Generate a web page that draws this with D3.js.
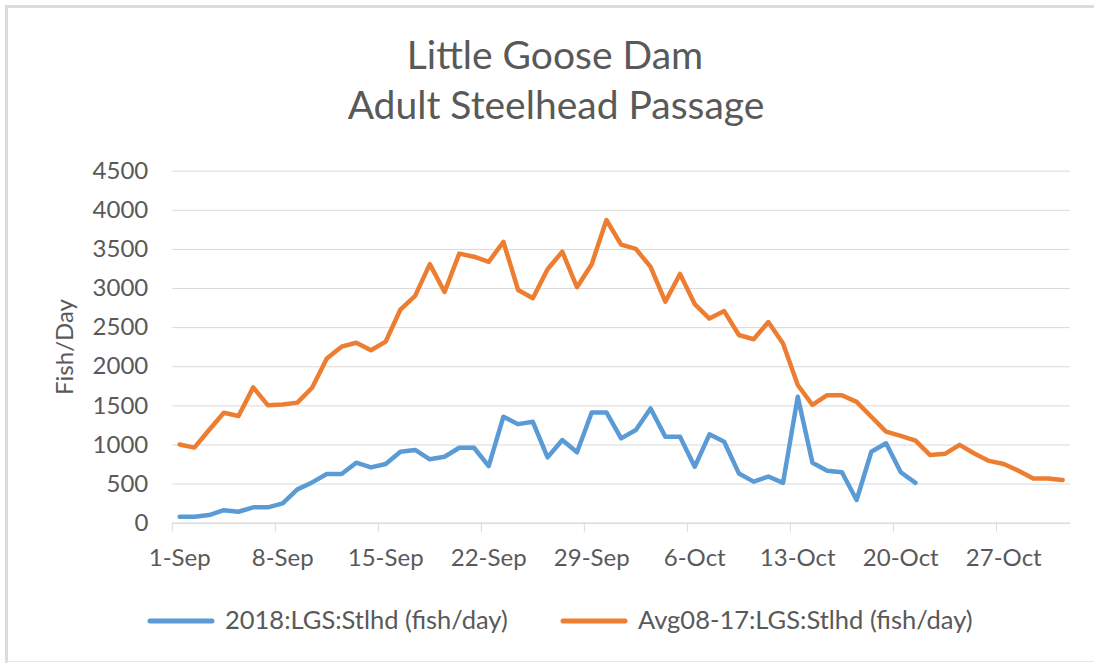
<!DOCTYPE html>
<html>
<head>
<meta charset="utf-8">
<script src="https://cdn.jsdelivr.net/npm/d3@7"></script>
<style>
  body { margin: 0; background: #fff; }
  text { font-family: Lato, "Open Sans", sans-serif; fill: #595959; }
</style>
</head>
<body>
<div id="chart"></div>
<script>
// daily counts, 1-Sep onwards
const series2018 = [77, 77, 98, 160, 140, 196, 196, 247, 426, 515,
    622, 622, 767, 707, 750, 907, 930, 810, 843, 958,
    958, 724, 1355, 1260, 1290, 835, 1057, 900, 1410, 1410,
    1078, 1185, 1460, 1100, 1100, 715, 1130, 1035, 630, 525,
    590, 510, 1610, 767, 665, 645, 290, 907, 1015, 645,
    510];
const seriesAvg = [1000, 960, 1185, 1405, 1365, 1730, 1500, 1510, 1535, 1725,
    2100, 2250, 2300, 2205, 2315, 2725, 2900, 3305, 2950, 3440,
    3400, 3335, 3590, 2975, 2870, 3240, 3465, 3010, 3305, 3870,
    3555, 3500, 3270, 2825, 3180, 2795, 2610, 2705, 2400, 2345,
    2565, 2290, 1760, 1505, 1630, 1630, 1545, 1355, 1165, 1110,
    1050, 865, 880, 995, 885, 790, 750, 665, 565, 565,
    545];
const xTickLabels = ["1-Sep", "8-Sep", "15-Sep", "22-Sep", "29-Sep", "6-Oct", "13-Oct", "20-Oct", "27-Oct"];
const yTicks = [0, 500, 1000, 1500, 2000, 2500, 3000, 3500, 4000, 4500];
const seriesNames = ["2018:LGS:Stlhd (fish/day)", "Avg08-17:LGS:Stlhd (fish/day)"];
const colors = ["#5B9BD5", "#ED7D31"];

const days = d3.timeDay.range(new Date(2018, 8, 1), new Date(2018, 10, 1)); // 1-Sep .. 31-Oct

const width = 1094;
const height = 663;
const margin = { top: 170.7, right: 24, bottom: 140.3, left: 172.3 };

const svg = d3.select("#chart")
    .append("svg")
    .attr("width", width)
    .attr("height", height);

// frame
svg.append("path")
    .attr("d", `M6.5,${height} V6.5 H${width}`)
    .attr("fill", "none")
    .attr("stroke", "#dcdcdc")
    .attr("stroke-width", 3);
svg.append("line")
    .attr("x1", 6).attr("x2", width)
    .attr("y1", 661.5).attr("y2", 661.5)
    .attr("stroke", "#e6e6e6");

const x = d3.scaleBand()
    .domain(d3.range(days.length))
    .range([margin.left, width - margin.right])
    .padding(0);

const y = d3.scaleLinear()
    .domain([0, 4500])
    .range([height - margin.bottom, margin.top]);

// gridlines + Y axis
const yAxis = svg.append("g")
    .attr("transform", `translate(${margin.left},0)`)
    .call(d3.axisLeft(y).tickValues(yTicks).tickFormat(d3.format("d"))
        .tickSize(-(width - margin.left - margin.right)).tickPadding(24));
yAxis.select(".domain").remove();
yAxis.selectAll(".tick line").attr("stroke", "#d9d9d9");
yAxis.selectAll("text")
    .style("font-size", "24px")
    .attr("fill", "#595959");

// X axis
const tickIdx = xTickLabels.map((d, i) => i * 7);
const xAxis = svg.append("g")
    .attr("transform", `translate(0,${height - margin.bottom})`)
    .call(d3.axisBottom(x).tickValues(tickIdx).tickFormat((d, i) => xTickLabels[i]).tickSize(0).tickPadding(26));
xAxis.select(".domain").attr("stroke", "#d9d9d9");
xAxis.selectAll(".tick text")
    .style("font-size", "24px")
    .attr("fill", "#595959");
// tick marks sit on the category boundaries
xAxis.selectAll(".tick").append("line")
    .attr("x1", -x.bandwidth() / 2).attr("x2", -x.bandwidth() / 2)
    .attr("y1", 0).attr("y2", 9)
    .attr("stroke", "#d9d9d9");

const line = d3.line()
    .x((d, i) => x(i) + x.bandwidth() / 2)
    .y(d => y(d));

[series2018, seriesAvg].forEach((s, k) => {
    svg.append("path")
        .datum(s)
        .attr("fill", "none")
        .attr("stroke", colors[k])
        .attr("stroke-width", 4.5)
        .attr("stroke-linejoin", "round")
        .attr("stroke-linecap", "round")
        .attr("d", line);
});

// titles
svg.append("text")
    .attr("x", 555).attr("y", 69)
    .attr("text-anchor", "middle")
    .style("font-size", "39px")
    .text("Little Goose Dam");
svg.append("text")
    .attr("x", 556).attr("y", 119)
    .attr("text-anchor", "middle")
    .style("font-size", "39px")
    .text("Adult Steelhead Passage");

svg.append("text")
    .attr("transform", "translate(73,347) rotate(-90)")
    .attr("text-anchor", "middle")
    .style("font-size", "24px")
    .text("Fish/Day");

// legend
const legendX = [150, 563];
seriesNames.forEach((name, k) => {
    svg.append("line")
        .attr("x1", legendX[k]).attr("x2", legendX[k] + 62)
        .attr("y1", 621).attr("y2", 621)
        .attr("stroke", colors[k])
        .attr("stroke-width", 5)
        .attr("stroke-linecap", "round");
    svg.append("text")
        .attr("x", legendX[k] + 75).attr("y", 629)
        .style("font-size", "25.5px")
        .text(name);
});
</script>
</body>
</html>
